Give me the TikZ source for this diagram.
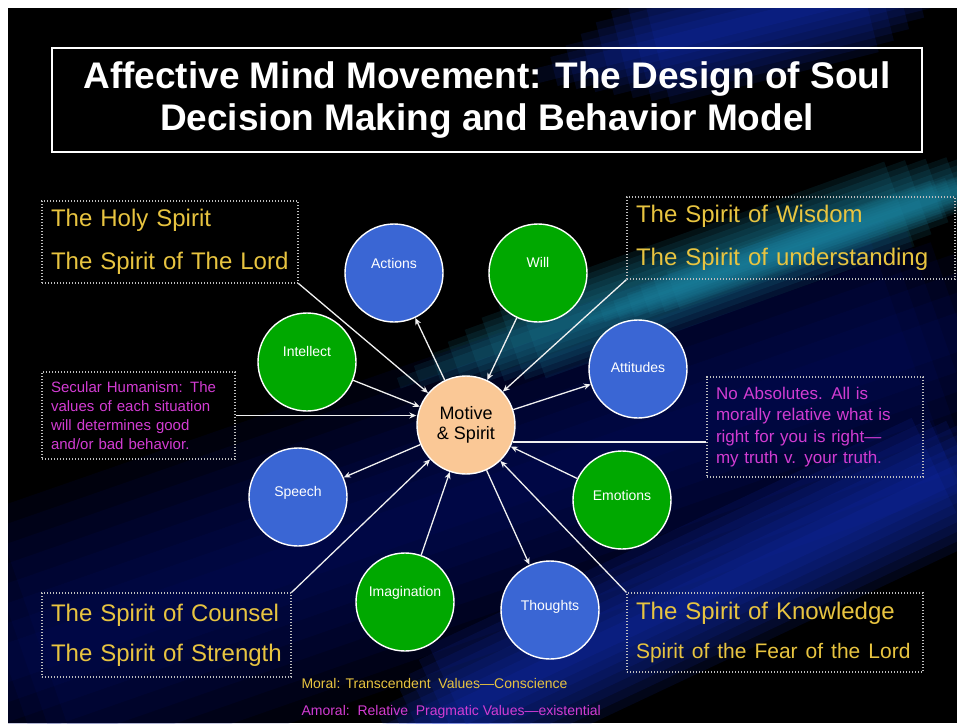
\documentclass[tikz,border=0pt]{standalone}
\usepackage{fontspec}
\setmainfont{Liberation Sans}
\usetikzlibrary{positioning, arrows.meta, calc}

\definecolor{navy}{RGB}{0,15,110}
\definecolor{bandblue}{RGB}{20,50,200}
\definecolor{bandteal}{RGB}{30,140,170}
\definecolor{gold}{RGB}{232,196,64}
\definecolor{pinkish}{RGB}{210,60,210}
\definecolor{bubblue}{RGB}{58,102,212}
\definecolor{bubgreen}{RGB}{0,168,0}
\definecolor{peach}{RGB}{250,200,150}
\definecolor{boxgray}{RGB}{190,190,190}

\tikzset{
  bubble/.style={circle, draw=white, line width=1.4pt, minimum size=98pt, inner sep=0pt},
  bluebub/.style={bubble, fill=bubblue},
  greenbub/.style={bubble, fill=bubgreen},
  lab/.style={text=white, font=\fontsize{14}{16}\selectfont},
  giftbox/.style={draw=boxgray, line width=1.2pt, dash pattern=on 1.2pt off 1.8pt,
    inner xsep=9pt, inner ysep=0pt, align=left, text=gold},
  viewbox/.style={giftbox, text=pinkish},
  flow/.style={white!88!gray, line width=1.3pt, -{Stealth[length=7pt, width=6pt]}},
  link/.style={white!88!gray, line width=1.3pt}
}

\begin{document}
\begin{tikzpicture}[x=1pt, y=-1pt]
  \useasboundingbox (0,0) rectangle (957,723);
  \fill[white] (0,0) rectangle (957,723);
  \fill[black] (8,8) rectangle (957,723);

  % soft diagonal streaks of the slide background
  \begin{scope}
    \clip (8,8) rectangle (957,723);
    \foreach \ax/\ay/\bx/\by/\hw/\fd/\col in {-100/700/1050/300/150/150/navy,
        350/760/1050/430/70/120/bandblue, 380/390/1050/150/45/160/bandteal,
        560/330/1050/160/20/120/bandteal, 520/80/1000/-40/60/140/bandblue}{
      \path (\ax,\ay) coordinate (p) (\bx,\by) coordinate (q);
      \foreach \k in {1,...,8}{
        \pgfmathsetmacro{\w}{\hw*\k/8}
        \pgfmathsetmacro{\f}{\fd*\k/8}
        \path ($(p)!\f pt!(q)$) coordinate (pa) ($(q)!\f pt!(p)$) coordinate (qa);
        \fill[\col, opacity=0.12] ($(pa)!\w pt!90:(qa)$) -- ($(qa)!\w pt!-90:(pa)$)
          -- ($(qa)!\w pt!90:(pa)$) -- ($(pa)!\w pt!-90:(qa)$) -- cycle;
      }
    }
  \end{scope}

  % title
  \draw[white, line width=1.5pt] (52,48) rectangle (922,152);
  \node[text=white, align=center, font=\fontsize{37}{42}\selectfont\bfseries] (title) at (487,100)
    {Affective Mind Movement: The Design of Soul\\Decision Making and Behavior Model};

  % center and bubbles
  \node[bubble, fill=peach, align=center, font=\fontsize{18}{20}\selectfont] (motive) at (466,425) {Motive\\\& Spirit};
  \node[bluebub, label={[lab, yshift=10pt]center:Actions}] (actions) at (394,273) {};
  \node[greenbub, label={[lab, yshift=11pt]center:Will}] (will) at (538,273) {};
  \node[bluebub, label={[lab, yshift=2pt]center:Attitudes}] (attitudes) at (638,369) {};
  \node[greenbub, label={[lab, yshift=5pt]center:Emotions}] (emotions) at (622,500) {};
  \node[bluebub, label={[lab, yshift=3pt]center:Thoughts}] (thoughts) at (550,610) {};
  \node[greenbub, label={[lab, yshift=9pt]center:Imagination}] (imag) at (405,602) {};
  \node[bluebub, label={[lab, yshift=4pt]center:Speech}] (speech) at (298,497) {};
  \node[greenbub, label={[lab, yshift=11pt]center:Intellect}] (intellect) at (307,362) {};

  % the spirits
  \node[giftbox, text width=238pt, minimum height=82pt, font=\fontsize{24}{43}\selectfont] (holy) at (170,242)
    {The Holy Spirit\\The Spirit of The Lord};
  \node[giftbox, text width=310pt, minimum height=82pt, font=\fontsize{24}{43}\selectfont] (wisdom) at (791,238)
    {The Spirit of Wisdom\\The Spirit of understanding};
  \node[giftbox, text width=231pt, minimum height=84pt, font=\fontsize{24}{40}\selectfont] (counsel) at (166.5,635)
    {The Spirit of Counsel\\The Spirit of Strength};
  \node[giftbox, text width=278pt, minimum height=79pt, font=\fontsize{24}{39}\selectfont] (knowl) at (775,632.5)
    {The Spirit of Knowledge\\\fontsize{21}{39}\selectfont Spirit of the Fear of the Lord};

  % world views
  \node[viewbox, text width=175pt, minimum height=87pt, font=\fontsize{15}{19}\selectfont] (secular) at (138.5,415.5)
    {Secular Humanism: The\\values of each situation\\will determines good\\and/or bad behavior.};
  \node[viewbox, text width=198pt, minimum height=100pt, font=\fontsize{17}{21.5}\selectfont] (noabs) at (815,427)
    {No Absolutes. All is\\morally relative what is\\right for you is right—\\my truth v. your truth.};

  \node[anchor=west, text=gold, font=\fontsize{14}{16}\selectfont] (moral) at (298,683)
    {Moral: Transcendent\ \ Values—Conscience};
  \node[anchor=west, text=pinkish, font=\fontsize{14}{16}\selectfont] (amoral) at (298,712)
    {Amoral:\ \ Relative\ \ Pragmatic Values—existential};

  % connectors
  \draw[flow] (holy.south east) -- (motive);
  \draw[flow] (wisdom.south west) -- (motive);
  \draw[flow] (counsel.north east) -- (motive);
  \draw[flow] (knowl.north west) -- (motive);
  \draw[flow] (secular.east) -- (secular.east -| motive.west);
  \draw[link] (motive.-20) -- (motive.-20 -| noabs.west);
  \draw[flow] (intellect) -- (motive);
  \draw[flow] (will) -- (motive);
  \draw[flow] (emotions) -- (motive);
  \draw[flow] (imag) -- (motive);
  \draw[flow] (motive) -- (actions);
  \draw[flow] (motive) -- (attitudes);
  \draw[flow] (motive) -- (speech);
  \draw[flow] (motive) -- (thoughts);
\end{tikzpicture}
\end{document}
